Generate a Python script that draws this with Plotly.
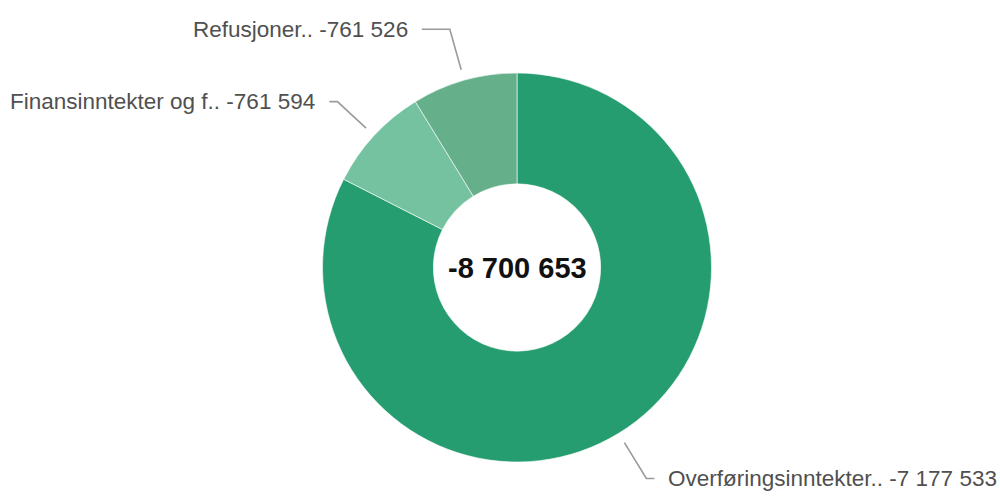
import math
import plotly.graph_objects as go

# Income categories and their amounts (NOK)
categories = ["Overføringsinntekter..", "Finansinntekter og f..", "Refusjoner.."]
values = [-7177533, -761594, -761526]
colors = ["#259d70", "#74c29f", "#65b08b"]

W, H = 1000, 497
CX, CY, R = 517.0, 267.5, 194.5  # donut centre and outer radius in pixels
HOLE = 0.43


def fmt(v):
    s = f"{abs(v):,}".replace(",", " ")
    return ("-" if v < 0 else "") + s


def px(x):
    return x / W


def py(y):
    return 1 - y / H


total = sum(values)
fig = go.Figure()
fig.add_trace(go.Pie(
    labels=categories,
    values=[abs(v) for v in values],
    hole=HOLE,
    sort=False,
    direction="clockwise",
    rotation=0,
    textinfo="none",
    hoverinfo="label+value",
    marker=dict(colors=colors, line=dict(color="rgba(255,255,255,0.6)", width=1)),
    domain=dict(x=[px(CX - R), px(CX + R)], y=[py(CY + R), py(CY - R)]),
    showlegend=False,
))

# Leader lines and outside labels, placed at each slice's mid-angle
horiz = [8, 8, 28]
radial = [53, 50, 53]
shapes, annotations = [], []
cum = 0.0
for name, v, h, rl in zip(categories, values, horiz, radial):
    frac = abs(v) / abs(total)
    mid = (cum + frac / 2) * 2 * math.pi
    cum += frac
    s, c = math.sin(mid), math.cos(mid)
    x0, y0 = CX + (R + 11) * s, CY - (R + 11) * c
    x1, y1 = CX + (R + rl) * s, CY - (R + rl) * c
    side = 1 if s >= 0 else -1
    x2 = x1 + side * h
    path = f"M {px(x0)},{py(y0)} L {px(x1)},{py(y1)} L {px(x2)},{py(y1)}"
    shapes.append(dict(type="path", path=path, xref="paper", yref="paper",
                       line=dict(color="#9a9a9a", width=1.6)))
    annotations.append(dict(
        x=px(x2 + side * 12), y=py(y1), xref="paper", yref="paper",
        text=f"{name} {fmt(v)}", showarrow=False,
        xanchor="left" if side > 0 else "right", yanchor="middle",
        font=dict(family="Liberation Sans, Arial, sans-serif", size=22.5, color="#505050"),
    ))

annotations.append(dict(
    x=px(CX), y=py(CY), xref="paper", yref="paper",
    text=f"<b>{fmt(total)}</b>", showarrow=False,
    xanchor="center", yanchor="middle",
    font=dict(family="Liberation Sans, Arial, sans-serif", size=29, color="#111111"),
))

fig.update_layout(
    width=W, height=H,
    margin=dict(l=0, r=0, t=0, b=0),
    paper_bgcolor="white", plot_bgcolor="white",
    shapes=shapes, annotations=annotations,
)

fig.write_html("out.html")
